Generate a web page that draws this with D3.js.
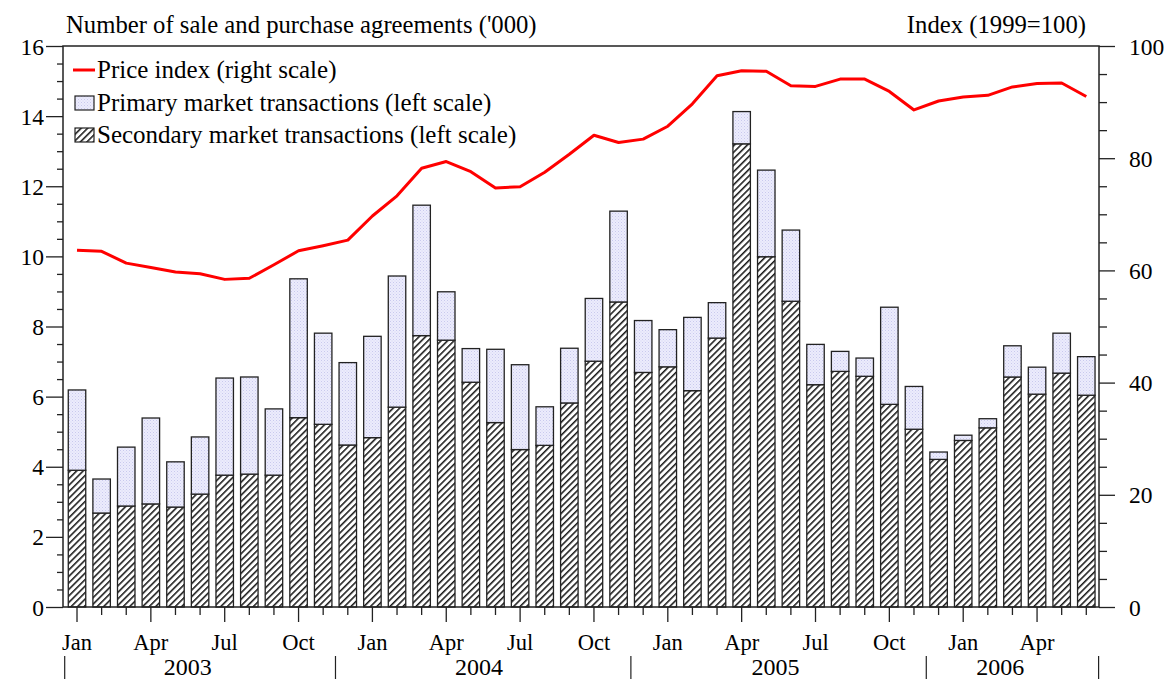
<!DOCTYPE html>
<html>
<head>
<meta charset="utf-8">
<script src="https://cdn.jsdelivr.net/npm/d3@7"></script>
<style>
  body { margin: 0; background: #fff; }
  svg, svg text { font-family: "Liberation Serif", "Times New Roman", serif !important; }
  svg { display: block; }
</style>
</head>
<body>
<svg id="chart" width="1170" height="679"></svg>
<script>
// Monthly data, Jan 2003 - Jun 2006
var months = ["Jan","Feb","Mar","Apr","May","Jun","Jul","Aug","Sep","Oct","Nov","Dec"];
var years = ["2003","2004","2005","2006"];

// secondary market transactions ('000)
var secondary = [3.90, 2.68, 2.88, 2.94, 2.85, 3.22, 3.76, 3.79, 3.76, 5.40, 5.21, 4.62,
                 4.83, 5.70, 7.74, 7.61, 6.41, 5.26, 4.49, 4.61, 5.82, 7.01, 8.70, 6.69,
                 6.85, 6.17, 7.67, 13.21, 9.99, 8.72, 6.34, 6.72, 6.58, 5.78, 5.07, 4.21,
                 4.75, 5.11, 6.56, 6.07, 6.67, 6.04];
// total (primary + secondary) ('000)
var total = [6.19, 3.65, 4.56, 5.39, 4.14, 4.85, 6.53, 6.56, 5.65, 9.36, 7.81, 6.97,
             7.72, 9.44, 11.46, 8.99, 7.37, 7.35, 6.91, 5.71, 7.38, 8.80, 11.29, 8.17,
             7.91, 8.26, 8.68, 14.13, 12.46, 10.75, 7.49, 7.29, 7.10, 8.55, 6.29, 4.42,
             4.90, 5.37, 7.45, 6.84, 7.81, 7.14];
var primary = total.map((t, i) => +(t - secondary[i]).toFixed(2));

// price index (1999=100)
var priceIndex = [63.6, 63.4, 61.3, 60.5, 59.7, 59.4, 58.4, 58.6, 61.0, 63.5, 64.4, 65.4,
                  69.7, 73.3, 78.2, 79.4, 77.6, 74.7, 74.9, 77.5, 80.7, 84.1, 82.8, 83.4,
                  85.7, 89.7, 94.7, 95.6, 95.5, 92.9, 92.8, 94.1, 94.1, 91.9, 88.6, 90.2,
                  90.9, 91.2, 92.7, 93.3, 93.4, 91.0];

var leftTicks = [0, 2, 4, 6, 8, 10, 12, 14, 16];
var rightTicks = [0, 20, 40, 60, 80, 100];

var periods = d3.range(secondary.length).map(i => ({
  i: i,
  month: months[i % 12],
  year: years[Math.floor(i / 12)],
  secondary: secondary[i],
  primary: primary[i],
  price: priceIndex[i]
}));

var plotLeft = 63, plotRight = 1099, plotTop = 46, plotBottom = 607;

var svg = d3.select("#chart");

// patterns
var defs = svg.append("defs");
var dots = defs.append("pattern")
    .attr("id", "dots")
    .attr("patternUnits", "userSpaceOnUse")
    .attr("width", 3).attr("height", 3);
dots.append("rect").attr("width", 3).attr("height", 3).attr("fill", "#ececfc");
dots.append("rect").attr("x", 0).attr("y", 0).attr("width", 1).attr("height", 1).attr("fill", "#c9c9ee");
dots.append("rect").attr("x", 1.5).attr("y", 1.5).attr("width", 1).attr("height", 1).attr("fill", "#d6d6f4");

var hatch = defs.append("pattern")
    .attr("id", "hatch")
    .attr("patternUnits", "userSpaceOnUse")
    .attr("width", 4.6).attr("height", 4.6)
    .attr("patternTransform", "rotate(45)");
hatch.append("rect").attr("width", 4.6).attr("height", 4.6).attr("fill", "#fff");
hatch.append("line")
    .attr("x1", 0.8).attr("y1", 0).attr("x2", 0.8).attr("y2", 4.6)
    .attr("stroke", "#000").attr("stroke-width", 1.4);

// scales
var pad = 0.29;
var x = d3.scaleBand()
    .domain(periods.map(d => d.i))
    .range([64.7, 1098.6])
    .paddingInner(pad)
    .paddingOuter(pad / 2);

var yLeft = d3.scaleLinear().domain([0, 16]).range([plotBottom, plotTop]);
var yRight = d3.scaleLinear().domain([0, 100]).range([plotBottom, plotTop]);

var cx = i => x(i) + x.bandwidth() / 2;

// bars
var bars = svg.append("g");
bars.selectAll(".sec")
    .data(periods)
    .enter().append("rect")
    .attr("class", "sec")
    .attr("x", d => x(d.i))
    .attr("width", x.bandwidth())
    .attr("y", d => yLeft(d.secondary))
    .attr("height", d => yLeft(0) - yLeft(d.secondary))
    .attr("fill", "url(#hatch)")
    .attr("stroke", "#222")
    .attr("stroke-width", 1.3);

bars.selectAll(".pri")
    .data(periods)
    .enter().append("rect")
    .attr("class", "pri")
    .attr("x", d => x(d.i))
    .attr("width", x.bandwidth())
    .attr("y", d => yLeft(d.secondary + d.primary))
    .attr("height", d => yLeft(d.secondary) - yLeft(d.secondary + d.primary))
    .attr("fill", "url(#dots)")
    .attr("stroke", "#222")
    .attr("stroke-width", 1.3);

// price line
var line = d3.line()
    .x(d => cx(d.i))
    .y(d => yRight(d.price));

svg.append("path")
    .datum(periods)
    .attr("d", line)
    .attr("fill", "none")
    .attr("stroke", "#ff0000")
    .attr("stroke-width", 3)
    .attr("stroke-linejoin", "round");

// left axis
var gl = svg.append("g")
    .attr("transform", "translate(" + plotLeft + ",0)")
    .call(d3.axisLeft(yLeft).tickValues(d3.range(0, 16.01, 0.5)).tickSize(6).tickFormat(""))
    .call(g => g.select(".domain").remove());
gl.selectAll(".tick line").attr("stroke", "#222").attr("stroke-width", 1.3);
gl.selectAll(".tick")
    .filter(d => leftTicks.indexOf(d) >= 0)
    .select("line").attr("x2", -17);
gl.selectAll(".tick")
    .filter(d => leftTicks.indexOf(d) >= 0)
    .append("text")
    .attr("x", -19).attr("dy", "0.34em")
    .attr("text-anchor", "end")
    .attr("fill", "#000")
    .style("font-size", "23.5px")
    .text(d => d);

// right axis
var gr = svg.append("g")
    .attr("transform", "translate(" + plotRight + ",0)")
    .call(d3.axisRight(yRight).tickValues(d3.range(0, 100.01, 5)).tickSize(8).tickFormat(""))
    .call(g => g.select(".domain").remove());
gr.selectAll(".tick line").attr("stroke", "#222").attr("stroke-width", 1.3);
gr.selectAll(".tick")
    .filter(d => rightTicks.indexOf(d) >= 0)
    .select("line").attr("x2", 16);
gr.selectAll(".tick")
    .filter(d => rightTicks.indexOf(d) >= 0)
    .append("text")
    .attr("x", 30).attr("dy", "0.34em")
    .attr("text-anchor", "start")
    .attr("fill", "#000")
    .style("font-size", "23.5px")
    .text(d => d);

// frame
svg.append("rect")
    .attr("x", plotLeft).attr("y", plotTop)
    .attr("width", plotRight - plotLeft).attr("height", plotBottom - plotTop)
    .attr("fill", "none")
    .attr("stroke", "#222")
    .attr("stroke-width", 1.5);

// bottom axis: month ticks
var quarterMonths = ["Jan", "Apr", "Jul", "Oct"];
var gb = svg.append("g");
gb.selectAll(".mtick")
    .data(periods)
    .enter().append("line")
    .attr("x1", d => cx(d.i)).attr("x2", d => cx(d.i))
    .attr("y1", plotBottom)
    .attr("y2", d => plotBottom + (quarterMonths.indexOf(d.month) >= 0 ? 15 : 8))
    .attr("stroke", "#222")
    .attr("stroke-width", 1.3);

gb.selectAll(".mlabel")
    .data(periods.filter(d => quarterMonths.indexOf(d.month) >= 0))
    .enter().append("text")
    .attr("x", d => cx(d.i))
    .attr("y", 650)
    .attr("text-anchor", "middle")
    .style("font-size", "22.5px")
    .text(d => d.month);

// year separators (drawn at the Nov/Dec boundary as in the original) and labels
var sepIdx = [0, 11, 23, 35];
var sepX = sepIdx.map(i => x(i) - x.step() * pad / 2).concat([1098.6]);
gb.selectAll(".ysep")
    .data(sepX)
    .enter().append("line")
    .attr("x1", d => d).attr("x2", d => d)
    .attr("y1", 656).attr("y2", 679)
    .attr("stroke", "#222")
    .attr("stroke-width", 1.2);

var yearPos = [4.5, 16.33, 28.37, 37.5];
gb.selectAll(".ylabel")
    .data(years)
    .enter().append("text")
    .attr("x", (d, k) => cx(0) + yearPos[k] * x.step())
    .attr("y", 675)
    .attr("text-anchor", "middle")
    .style("font-size", "24px")
    .text(d => d);

// axis titles
svg.append("text")
    .attr("x", 66).attr("y", 33)
    .style("font-size", "24.7px")
    .text("Number of sale and purchase agreements ('000)");
svg.append("text")
    .attr("x", 1086).attr("y", 33)
    .attr("text-anchor", "end")
    .style("font-size", "24.7px")
    .text("Index (1999=100)");

// legend
var lg = svg.append("g");
lg.append("line")
    .attr("x1", 73).attr("x2", 95).attr("y1", 70).attr("y2", 70)
    .attr("stroke", "#ff0000").attr("stroke-width", 3);
lg.append("text").attr("x", 97).attr("y", 78).style("font-size", "25px")
    .text("Price index (right scale)");
lg.append("rect")
    .attr("x", 75).attr("y", 96).attr("width", 19).attr("height", 14)
    .attr("fill", "url(#dots)").attr("stroke", "#222").attr("stroke-width", 1.2);
lg.append("text").attr("x", 97).attr("y", 111).style("font-size", "25px")
    .text("Primary market transactions (left scale)");
lg.append("rect")
    .attr("x", 75).attr("y", 128).attr("width", 19).attr("height", 14)
    .attr("fill", "url(#hatch)").attr("stroke", "#222").attr("stroke-width", 1.2);
lg.append("text").attr("x", 97).attr("y", 143).style("font-size", "25px")
    .text("Secondary market transactions (left scale)");
</script>
</body>
</html>
